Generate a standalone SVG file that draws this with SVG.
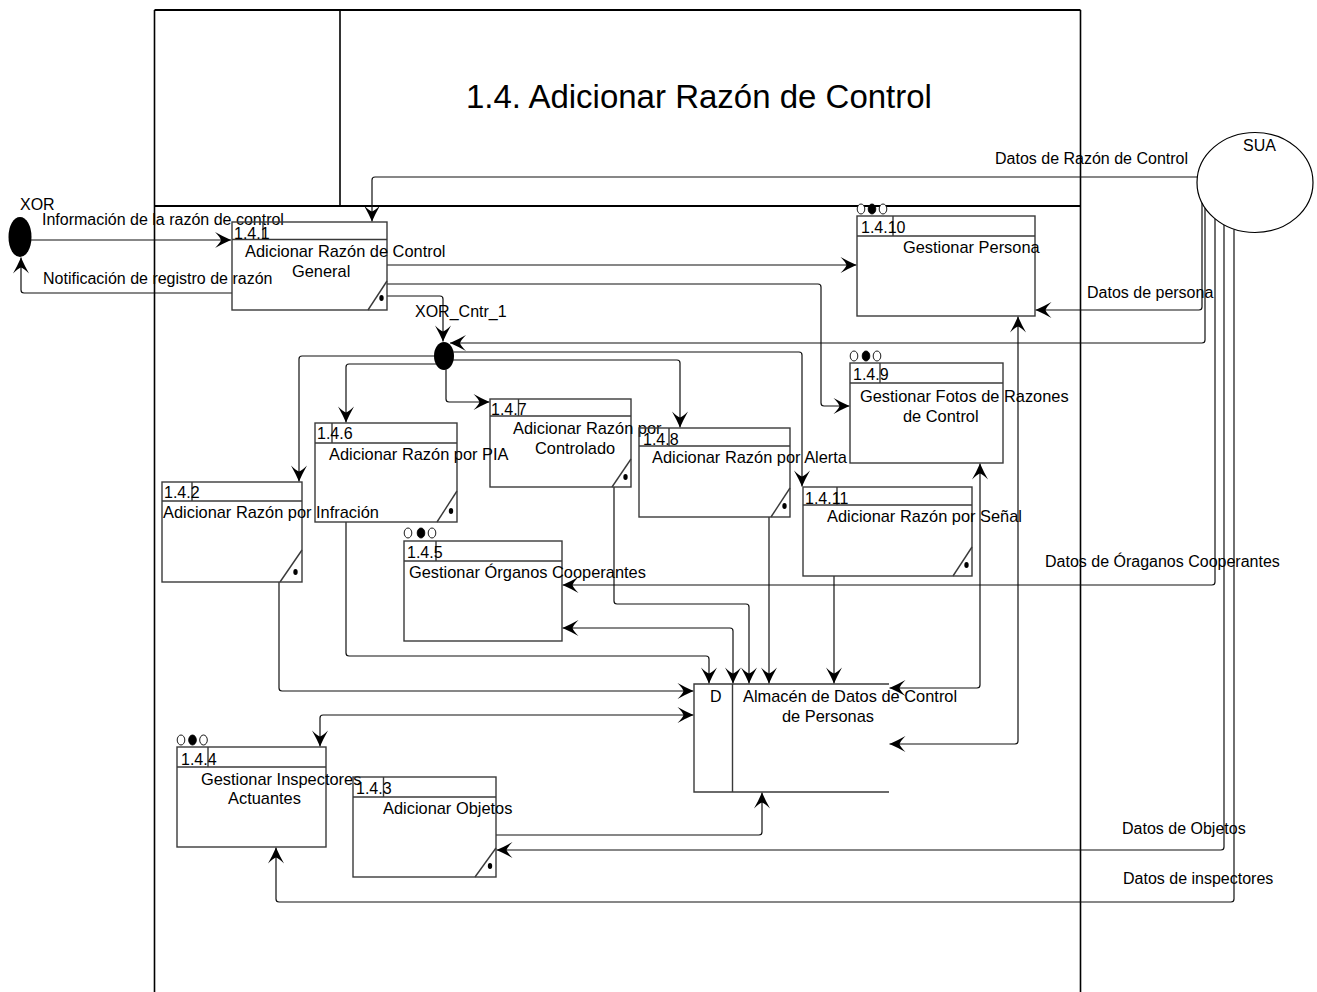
<svg xmlns="http://www.w3.org/2000/svg" width="1317" height="992" viewBox="0 0 1317 992">
  <style>
    .t { font-family: "Liberation Sans", Arial, sans-serif; font-size: 16px; fill: #000; }
    .lb { font-size: 16.4px; }
    .title { font-family: "Liberation Sans", Arial, sans-serif; font-size: 33px; fill: #000; }
    .box { fill: none; stroke: #3a3a3a; stroke-width: 1.4; }
    .frm { fill: none; stroke: #000; stroke-width: 1.6; }
    .frmb { fill: none; stroke: #000; stroke-width: 2.2; }
    .c { fill: none; stroke: #111; stroke-width: 1.2; }
    .ring { fill: #fff; stroke: #000; stroke-width: 0.9; }
    .ringf { fill: #000; stroke: #000; stroke-width: 0.9; }
    .dot { fill: #000; }
  </style>
  <defs>
    <marker id="arr" viewBox="-17 -9 18 18" refX="0" refY="0" markerWidth="18" markerHeight="18" markerUnits="userSpaceOnUse" orient="auto-start-reverse">
      <path d="M0,0 Q-8,-3.5 -16,-8 Q-11,-3 -10,0 Q-11,3 -16,8 Q-8,3.5 0,0 Z" fill="#000"/>
    </marker>
  </defs>
  <rect width="1317" height="992" fill="#fff"/>

  <!-- frame of the decomposition sheet -->
  <g id="frame">
    <line class="frmb" x1="154.5" y1="10" x2="1080.5" y2="10"/>
    <line class="frm" x1="154.5" y1="10" x2="154.5" y2="992"/>
    <line class="frm" x1="1080.5" y1="10" x2="1080.5" y2="992"/>
    <line class="frm" x1="340" y1="10" x2="340" y2="206"/>
    <line class="frmb" x1="154.5" y1="206" x2="1080.5" y2="206"/>
    <text class="title" x="466" y="108">1.4. Adicionar Razón de Control</text>
  </g>

  <!-- data flows -->
  <g id="connectors">
    <path class="c" d="M31,240 L231,240" marker-end="url(#arr)"/>
    <path class="c" d="M232,293 L24,293 Q21,293 21,290 L21,257.5" marker-end="url(#arr)"/>
    <path class="c" d="M1197.5,177 L375,177 Q372,177 372,180 L372,221.5" marker-end="url(#arr)"/>
    <path class="c" d="M387,265 L856.5,265" marker-end="url(#arr)"/>
    <path class="c" d="M387,284 L818,284 Q821,284 821,287 L821,403 Q821,406 824,406 L849.5,406" marker-end="url(#arr)"/>
    <path class="c" d="M387,296 L440,296 Q443,296 443,299 L443,341.5" marker-end="url(#arr)"/>
    <path class="c" d="M1202,203 L1202,307 Q1202,310 1199,310 L1035.5,310" marker-end="url(#arr)"/>
    <path class="c" d="M1205,208 L1205,340 Q1205,343 1202,343 L450,343" marker-end="url(#arr)"/>
    <path class="c" d="M453.5,352 L799,352 Q802,352 802,355 L802,486.5" marker-end="url(#arr)"/>
    <path class="c" d="M452,360 L677,360 Q680,360 680,363 L680,427.5" marker-end="url(#arr)"/>
    <path class="c" d="M446,369.5 L446,399 Q446,402 449,402 L489.5,402" marker-end="url(#arr)"/>
    <path class="c" d="M436,364 L349,364 Q346,364 346,367 L346,422.5" marker-end="url(#arr)"/>
    <path class="c" d="M434,356 L302,356 Q299,356 299,359 L299,481.5" marker-end="url(#arr)"/>
    <path class="c" d="M346,522 L346,653 Q346,656 349,656 L706,656 Q709,656 709,659 L709,683.5" marker-end="url(#arr)"/>
    <path class="c" d="M733,683.5 L733,631 Q733,628 730,628 L562.5,628" marker-start="url(#arr)" marker-end="url(#arr)"/>
    <path class="c" d="M614,487 L614,601 Q614,604 617,604 L746,604 Q749,604 749,607 L749,683.5" marker-end="url(#arr)"/>
    <path class="c" d="M769,517 L769,683.5" marker-end="url(#arr)"/>
    <path class="c" d="M834,576 L834,683.5" marker-end="url(#arr)"/>
    <path class="c" d="M889.5,688 L977,688 Q980,688 980,685 L980,463.5" marker-start="url(#arr)" marker-end="url(#arr)"/>
    <path class="c" d="M889.5,744 L1015,744 Q1018,744 1018,741 L1018,316.5" marker-start="url(#arr)" marker-end="url(#arr)"/>
    <path class="c" d="M279,582 L279,688 Q279,691 282,691 L693.5,691" marker-end="url(#arr)"/>
    <path class="c" d="M320,746.5 L320,718 Q320,715 323,715 L693.5,715" marker-start="url(#arr)" marker-end="url(#arr)"/>
    <path class="c" d="M496,835 L759,835 Q762,835 762,832 L762,792.5" marker-end="url(#arr)"/>
    <path class="c" d="M1215,219 L1215,582 Q1215,585 1212,585 L562.5,585" marker-end="url(#arr)"/>
    <path class="c" d="M1224,225 L1224,847 Q1224,850 1221,850 L496.5,850" marker-end="url(#arr)"/>
    <path class="c" d="M1234,229.5 L1234,899 Q1234,902 1231,902 L279,902 Q276,902 276,899 L276,847.5" marker-end="url(#arr)"/>
    <text class="t" x="42" y="225">Información de la razón de control</text>
    <text class="t" x="43" y="284">Notificación de registro de razón</text>
    <text class="t" x="995" y="164">Datos de Razón de Control</text>
    <text class="t" x="1087" y="298">Datos de persona</text>
    <text class="t" x="1045" y="567">Datos de Óraganos Cooperantes</text>
    <text class="t" x="1122" y="834">Datos de Objetos</text>
    <text class="t" x="1123" y="884">Datos de inspectores</text>
  </g>

  <!-- external entity and junctions -->
  <g id="sua">
    <ellipse cx="1255" cy="182.5" rx="58" ry="50" fill="none" stroke="#000" stroke-width="1.2"/>
    <text class="t" x="1243" y="151">SUA</text>
  </g>
  <g id="xor">
    <ellipse cx="20" cy="237" rx="11.5" ry="20" fill="#000"/>
    <text class="t" x="20" y="210">XOR</text>
  </g>
  <g id="xor_cntr_1">
    <ellipse cx="444" cy="356" rx="10" ry="14" fill="#000"/>
    <text class="t" x="415" y="317">XOR_Cntr_1</text>
  </g>

  <!-- processes -->
  <g id="p141">
    <rect class="box" x="232" y="222" width="155" height="88"/>
    <line class="box" x1="232" y1="239.5" x2="387" y2="239.5"/>
    <line class="box" x1="263" y1="222" x2="263" y2="239.5"/>
    <line class="box" x1="368" y1="310" x2="387" y2="281"/>
    <ellipse class="dot" cx="381.5" cy="298" rx="2.2" ry="3"/>
    <text class="t" x="234" y="238.5">1.4.1</text>
    <text class="t lb" x="245" y="257">Adicionar Razón de Control</text>
    <text class="t lb" x="292" y="277">General</text>
  </g>

  <g id="p1410">
    <ellipse class="ring" cx="861" cy="209" rx="3.8" ry="5"/>
    <ellipse class="ringf" cx="872" cy="209" rx="3.8" ry="5"/>
    <ellipse class="ring" cx="883" cy="209" rx="3.8" ry="5"/>
    <rect class="box" x="857" y="216" width="178" height="100"/>
    <line class="box" x1="857" y1="236" x2="1035" y2="236"/>
    <line class="box" x1="893" y1="216" x2="893" y2="236"/>
    <text class="t" x="861" y="233">1.4.10</text>
    <text class="t lb" x="903" y="253">Gestionar Persona</text>
  </g>

  <g id="p149">
    <ellipse class="ring" cx="854" cy="356" rx="3.8" ry="5"/>
    <ellipse class="ringf" cx="866" cy="356" rx="3.8" ry="5"/>
    <ellipse class="ring" cx="877" cy="356" rx="3.8" ry="5"/>
    <rect class="box" x="850" y="363" width="153" height="100"/>
    <line class="box" x1="850" y1="383" x2="1003" y2="383"/>
    <line class="box" x1="880" y1="363" x2="880" y2="383"/>
    <text class="t" x="853" y="380">1.4.9</text>
    <text class="t lb" x="860" y="402">Gestionar Fotos de Razones</text>
    <text class="t lb" x="903" y="422">de Control</text>
  </g>

  <g id="p147">
    <rect class="box" x="490" y="399" width="141" height="88"/>
    <line class="box" x1="490" y1="416" x2="631" y2="416"/>
    <line class="box" x1="518.5" y1="399" x2="518.5" y2="416"/>
    <line class="box" x1="612" y1="487" x2="631" y2="459"/>
    <ellipse class="dot" cx="625.5" cy="477" rx="2.2" ry="3"/>
    <text class="t" x="491" y="415">1.4.7</text>
    <text class="t lb" x="513" y="434">Adicionar Razón por</text>
    <text class="t lb" x="535" y="454">Controlado</text>
  </g>

  <g id="p148">
    <rect class="box" x="639" y="428" width="151" height="89"/>
    <line class="box" x1="639" y1="446" x2="790" y2="446"/>
    <line class="box" x1="669" y1="428" x2="669" y2="446"/>
    <line class="box" x1="771" y1="517" x2="790" y2="488"/>
    <ellipse class="dot" cx="784.5" cy="506" rx="2.2" ry="3"/>
    <text class="t" x="643" y="445">1.4.8</text>
    <text class="t lb" x="652" y="463">Adicionar Razón por Alerta</text>
  </g>

  <g id="p1411">
    <rect class="box" x="803" y="487" width="169" height="89"/>
    <line class="box" x1="803" y1="505" x2="972" y2="505"/>
    <line class="box" x1="837" y1="487" x2="837" y2="505"/>
    <line class="box" x1="953" y1="576" x2="972" y2="547"/>
    <ellipse class="dot" cx="966.5" cy="565" rx="2.2" ry="3"/>
    <text class="t" x="805" y="504">1.4.11</text>
    <text class="t lb" x="827" y="522">Adicionar Razón por Señal</text>
  </g>

  <g id="p146">
    <rect class="box" x="315" y="423" width="142" height="99"/>
    <line class="box" x1="315" y1="443" x2="457" y2="443"/>
    <line class="box" x1="332" y1="423" x2="332" y2="443"/>
    <line class="box" x1="437" y1="522" x2="457" y2="491"/>
    <ellipse class="dot" cx="451" cy="511" rx="2.2" ry="3"/>
    <text class="t" x="317" y="439">1.4.6</text>
    <text class="t lb" x="329" y="460">Adicionar Razón por PIA</text>
  </g>

  <g id="p142">
    <rect class="box" x="162" y="482" width="140" height="100"/>
    <line class="box" x1="162" y1="501" x2="302" y2="501"/>
    <line class="box" x1="192" y1="482" x2="192" y2="501"/>
    <line class="box" x1="280" y1="582" x2="302" y2="550"/>
    <ellipse class="dot" cx="295.5" cy="572" rx="2.2" ry="3"/>
    <text class="t" x="164" y="498">1.4.2</text>
    <text class="t lb" x="163" y="518">Adicionar Razón por Infración</text>
  </g>

  <g id="p145">
    <ellipse class="ring" cx="408" cy="533" rx="3.8" ry="5"/>
    <ellipse class="ringf" cx="421" cy="533" rx="3.8" ry="5"/>
    <ellipse class="ring" cx="432" cy="533" rx="3.8" ry="5"/>
    <rect class="box" x="404" y="541" width="158" height="100"/>
    <line class="box" x1="404" y1="561" x2="562" y2="561"/>
    <line class="box" x1="436" y1="541" x2="436" y2="561"/>
    <text class="t" x="407" y="558">1.4.5</text>
    <text class="t lb" x="409" y="578">Gestionar Órganos Cooperantes</text>
  </g>

  <!-- data store -->
  <g id="storeD">
    <path class="box" d="M889,684 L694,684 L694,792 L889,792"/>
    <line class="box" x1="732.5" y1="684" x2="732.5" y2="792"/>
    <text class="t" x="710" y="702">D</text>
    <text class="t lb" x="743" y="702">Almacén de Datos de Control</text>
    <text class="t lb" x="782" y="722">de Personas</text>
  </g>

  <g id="p144">
    <ellipse class="ring" cx="181" cy="740" rx="3.8" ry="5"/>
    <ellipse class="ringf" cx="192.5" cy="740" rx="3.8" ry="5"/>
    <ellipse class="ring" cx="203.5" cy="740" rx="3.8" ry="5"/>
    <rect class="box" x="177" y="747" width="149" height="100"/>
    <line class="box" x1="177" y1="767" x2="326" y2="767"/>
    <line class="box" x1="208" y1="747" x2="208" y2="767"/>
    <text class="t" x="181" y="765">1.4.4</text>
    <text class="t lb" x="201" y="785">Gestionar Inspectores</text>
    <text class="t lb" x="228" y="804">Actuantes</text>
  </g>

  <g id="p143">
    <rect class="box" x="353" y="777" width="143" height="100"/>
    <line class="box" x1="353" y1="797" x2="496" y2="797"/>
    <line class="box" x1="383.5" y1="777" x2="383.5" y2="797"/>
    <line class="box" x1="475" y1="877" x2="496" y2="848"/>
    <ellipse class="dot" cx="490" cy="866" rx="2.2" ry="3"/>
    <text class="t" x="356" y="794">1.4.3</text>
    <text class="t lb" x="383" y="814">Adicionar Objetos</text>
  </g>
</svg>
